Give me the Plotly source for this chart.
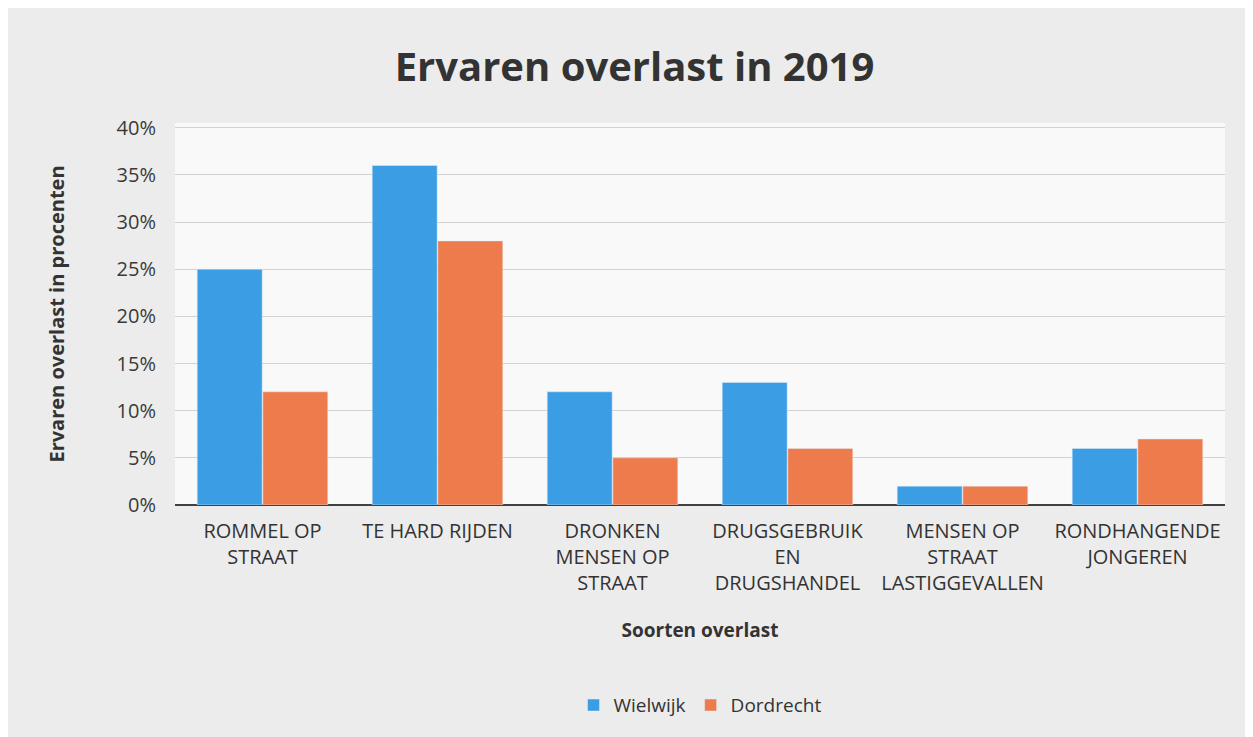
import plotly.graph_objects as go

categories = ["ROMMEL OP<br>STRAAT", "TE HARD RIJDEN", "DRONKEN<br>MENSEN OP<br>STRAAT",
              "DRUGSGEBRUIK<br>EN<br>DRUGSHANDEL", "MENSEN OP<br>STRAAT<br>LASTIGGEVALLEN",
              "RONDHANGENDE<br>JONGEREN"]
wielwijk = [25, 36, 12, 13, 2, 6]
dordrecht = [12, 28, 5, 6, 2, 7]
y_ticks = [0, 5, 10, 15, 20, 25, 30, 35, 40]
y_tick_labels = [f"{v}%" for v in y_ticks]

FONT = "Open Sans"
fig = go.Figure()
fig.add_trace(go.Bar(name="Wielwijk", x=categories, y=wielwijk, marker_color="#3b9de3"))
fig.add_trace(go.Bar(name="Dordrecht", x=categories, y=dordrecht, marker_color="#ee7b4b"))

fig.update_layout(
    width=1253, height=737,
    margin=dict(l=167, r=36, t=115, b=240),
    paper_bgcolor="#ececec",
    plot_bgcolor="#f9f9f9",
    barmode="group", bargap=0.25, bargroupgap=0.01,
    font=dict(family=FONT, color="#404040"),
    title=dict(text="<b>Ervaren overlast in 2019</b>", x=0.5, xanchor="center",
               y=0.92, yanchor="middle", font=dict(size=40, color="#333333", family=FONT)),
    legend=dict(orientation="h", x=0.5, xanchor="center", y=-0.524, yanchor="middle",
                font=dict(size=19, color="#333333"), bgcolor="rgba(0,0,0,0)"),
    xaxis=dict(showgrid=False, tickfont=dict(size=20, color="#333333"), ticks="",
               ticklabelstandoff=12,
               title=dict(text="<b>Soorten overlast</b>", font=dict(size=19, color="#333333"),
                          standoff=28)),
    yaxis=dict(range=[0, 40.5], tickvals=y_ticks, ticktext=y_tick_labels,
               tickfont=dict(size=20, color="#3a3a3a"), gridcolor="#d2d2d2", gridwidth=1,
               zeroline=True, zerolinecolor="#404040", zerolinewidth=2, ticks="",
               ticklabelstandoff=18,
               title=dict(text="<b>Ervaren overlast in procenten</b>",
                          font=dict(size=20, color="#333333"), standoff=46)),
)
fig.write_html("out.html")
